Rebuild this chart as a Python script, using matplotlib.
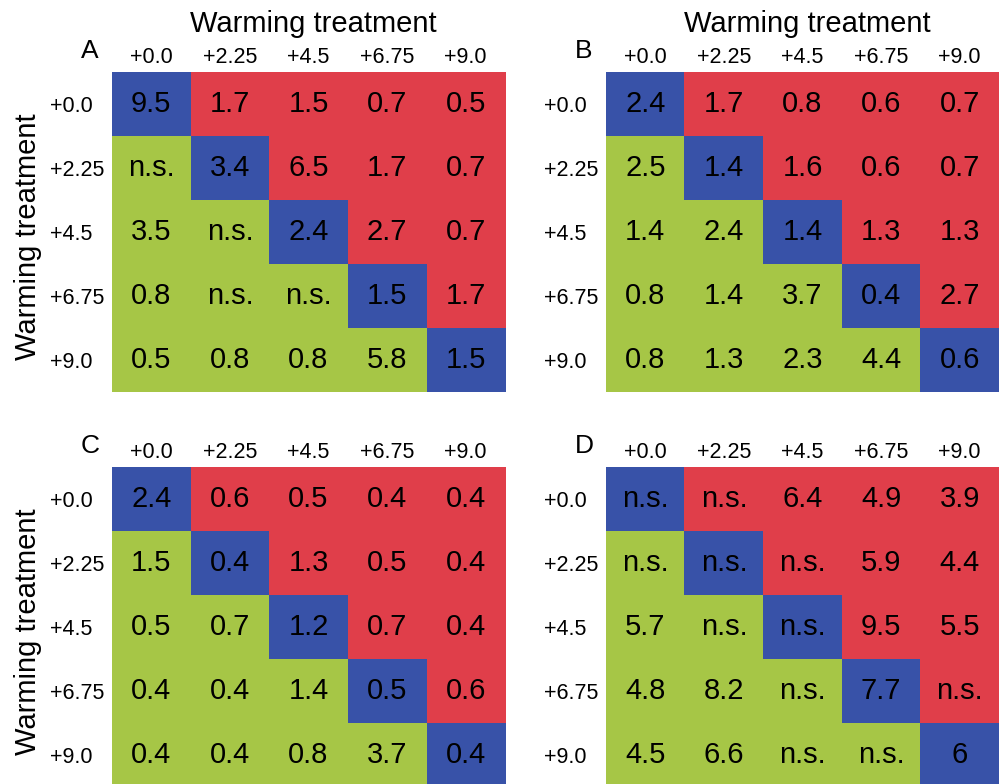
import matplotlib
matplotlib.use("Agg")
import matplotlib.pyplot as plt
import numpy as np
from matplotlib.colors import ListedColormap

plt.rcParams['font.family'] = ['Liberation Sans', 'DejaVu Sans']

treatments = ["+0.0", "+2.25", "+4.5", "+6.75", "+9.0"]
axis_title = "Warming treatment"
panel_letters = ["A", "B", "C", "D"]

values_A = [["9.5", "1.7", "1.5", "0.7", "0.5"],
            ["n.s.", "3.4", "6.5", "1.7", "0.7"],
            ["3.5", "n.s.", "2.4", "2.7", "0.7"],
            ["0.8", "n.s.", "n.s.", "1.5", "1.7"],
            ["0.5", "0.8", "0.8", "5.8", "1.5"]]
values_B = [["2.4", "1.7", "0.8", "0.6", "0.7"],
            ["2.5", "1.4", "1.6", "0.6", "0.7"],
            ["1.4", "2.4", "1.4", "1.3", "1.3"],
            ["0.8", "1.4", "3.7", "0.4", "2.7"],
            ["0.8", "1.3", "2.3", "4.4", "0.6"]]
values_C = [["2.4", "0.6", "0.5", "0.4", "0.4"],
            ["1.5", "0.4", "1.3", "0.5", "0.4"],
            ["0.5", "0.7", "1.2", "0.7", "0.4"],
            ["0.4", "0.4", "1.4", "0.5", "0.6"],
            ["0.4", "0.4", "0.8", "3.7", "0.4"]]
values_D = [["n.s.", "n.s.", "6.4", "4.9", "3.9"],
            ["n.s.", "n.s.", "n.s.", "5.9", "4.4"],
            ["5.7", "n.s.", "n.s.", "9.5", "5.5"],
            ["4.8", "8.2", "n.s.", "7.7", "n.s."],
            ["4.5", "6.6", "n.s.", "n.s.", "6"]]
panels = [values_A, values_B, values_C, values_D]

# colours: lower triangle, diagonal, upper triangle
colors = ["#A6C646", "#3852A8", "#E03E4A"]
cmap = ListedColormap(colors)

W, H = 999, 784
fig = plt.figure(figsize=(W / 100, H / 100), dpi=100)

def fx(px):
    return px / W

def fy(py):
    return 1 - py / H

n = len(treatments)
idx = np.arange(n)
category = np.where(idx[:, None] > idx[None, :], 0, np.where(idx[:, None] == idx[None, :], 1, 2))

lefts = [112, 606, 112, 606]
tops = [72, 72, 467, 467]
gw, gh = 393, 320

for k, vals in enumerate(panels):
    l, t = lefts[k], tops[k]
    ax = fig.add_axes([fx(l), fy(t + gh), gw / W, gh / H])
    ax.imshow(category, cmap=cmap, vmin=-0.5, vmax=2.5, aspect='auto',
              interpolation='nearest')
    for i in range(n):
        for j in range(n):
            ax.text(j, i, vals[i][j], ha='center', va='center', fontsize=21,
                    color='black')
    ax.set_xticks(idx)
    ax.set_xticklabels(treatments, fontsize=15.5)
    ax.xaxis.tick_top()
    ax.set_yticks(idx)
    ax.set_yticklabels(treatments, fontsize=15.5, ha='left')
    ax.tick_params(axis='x', length=0, pad=3)
    ax.tick_params(axis='y', length=0, pad=62 * 0.72)
    for s in ax.spines.values():
        s.set_visible(False)
    # panel letter
    fig.text(fx(l - 22), fy(t - 14), panel_letters[k], ha='center',
             va='baseline', fontsize=19)
    if k < 2:
        fig.text(fx(l + gw / 2 + 5), fy(32), axis_title, ha='center',
                 va='baseline', fontsize=21)
    if k % 2 == 0:
        fig.text(fx(28), fy(t + gh / 2 + 5), axis_title, ha='center',
                 va='center', rotation=90, fontsize=21)

fig.savefig("out.png", dpi=100)
